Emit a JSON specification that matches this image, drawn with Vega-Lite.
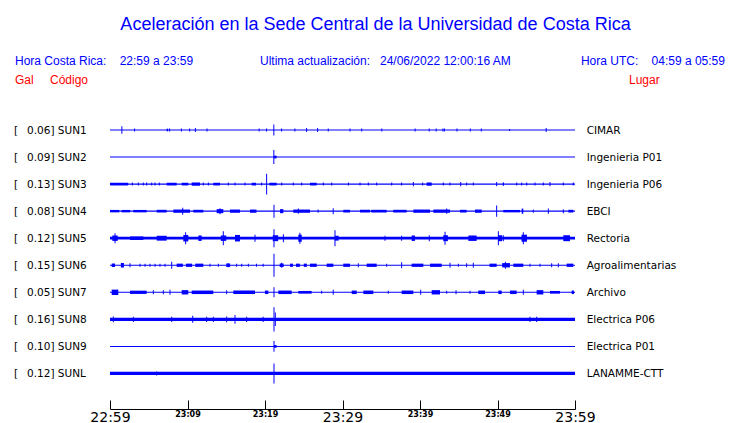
{
"$schema": "https://vega.github.io/schema/vega-lite/v6.json",
"width": 465, "height": 409,
"autosize": "none",
"padding": {"left": 110, "right": 165, "top": 0, "bottom": 14},
"background": "white",
"config": {"view": {"stroke": null}},
"datasets": {
"stations": [
{"row":0,"code":"SUN1","gal":0.06,"place":"CIMAR","noise":0.037},
{"row":1,"code":"SUN2","gal":0.09,"place":"Ingenieria P01","noise":0.037},
{"row":2,"code":"SUN3","gal":0.13,"place":"Ingenieria P06","noise":0.045},
{"row":3,"code":"SUN4","gal":0.08,"place":"EBCI","noise":0.05},
{"row":4,"code":"SUN5","gal":0.12,"place":"Rectoria","noise":0.1},
{"row":5,"code":"SUN6","gal":0.15,"place":"Agroalimentarias","noise":0.037},
{"row":6,"code":"SUN7","gal":0.05,"place":"Archivo","noise":0.037},
{"row":7,"code":"SUN8","gal":0.16,"place":"Electrica P06","noise":0.12},
{"row":8,"code":"SUN9","gal":0.10,"place":"Electrica P01","noise":0.037},
{"row":9,"code":"SUNL","gal":0.12,"place":"LANAMME-CTT","noise":0.12}
],
"bursts": [
{"code":"SUN1","t0":7.31,"t1":7.5,"amp":0.1},
{"code":"SUN2","t0":21.14,"t1":21.5,"amp":0.1},
{"code":"SUN3","t0":0,"t1":2.35,"amp":0.1},
{"code":"SUN3","t0":7.31,"t1":8.6,"amp":0.1},
{"code":"SUN3","t0":9.25,"t1":10.1,"amp":0.1},
{"code":"SUN3","t0":10.54,"t1":11.61,"amp":0.12},
{"code":"SUN3","t0":13.33,"t1":14.19,"amp":0.1},
{"code":"SUN3","t0":18.28,"t1":18.84,"amp":0.1},
{"code":"SUN3","t0":20.56,"t1":21.51,"amp":0.1},
{"code":"SUN3","t0":25.81,"t1":26.67,"amp":0.1},
{"code":"SUN3","t0":40.86,"t1":41.51,"amp":0.12},
{"code":"SUN3","t0":50.67,"t1":50.84,"amp":0.12},
{"code":"SUN4","t0":0,"t1":1.2,"amp":0.09},
{"code":"SUN4","t0":1.5,"t1":2.6,"amp":0.09},
{"code":"SUN4","t0":3.0,"t1":4.73,"amp":0.09},
{"code":"SUN4","t0":6.03,"t1":7.31,"amp":0.1},
{"code":"SUN4","t0":8.17,"t1":10.32,"amp":0.12},
{"code":"SUN4","t0":10.75,"t1":12.04,"amp":0.1},
{"code":"SUN4","t0":13.76,"t1":14.62,"amp":0.15},
{"code":"SUN4","t0":15.48,"t1":16.77,"amp":0.12},
{"code":"SUN4","t0":18.06,"t1":18.9,"amp":0.12},
{"code":"SUN4","t0":21.94,"t1":22.37,"amp":0.15},
{"code":"SUN4","t0":23.65,"t1":25.81,"amp":0.12},
{"code":"SUN4","t0":30.1,"t1":30.97,"amp":0.1},
{"code":"SUN4","t0":32.26,"t1":33.55,"amp":0.1},
{"code":"SUN4","t0":33.7,"t1":35.7,"amp":0.1},
{"code":"SUN4","t0":36.55,"t1":38.28,"amp":0.1},
{"code":"SUN4","t0":39.14,"t1":41.29,"amp":0.12},
{"code":"SUN4","t0":41.72,"t1":43.87,"amp":0.12},
{"code":"SUN4","t0":45.16,"t1":46.02,"amp":0.1},
{"code":"SUN4","t0":47.1,"t1":47.96,"amp":0.12},
{"code":"SUN4","t0":50.75,"t1":52.9,"amp":0.09},
{"code":"SUN4","t0":53.12,"t1":53.33,"amp":0.19},
{"code":"SUN4","t0":59.14,"t1":59.78,"amp":0.1},
{"code":"SUN5","t0":0.3,"t1":1.0,"amp":0.2},
{"code":"SUN5","t0":2.58,"t1":4.3,"amp":0.13},
{"code":"SUN5","t0":6.03,"t1":7.31,"amp":0.18},
{"code":"SUN5","t0":9.46,"t1":10.1,"amp":0.24},
{"code":"SUN5","t0":11.4,"t1":11.83,"amp":0.2},
{"code":"SUN5","t0":14.3,"t1":15.0,"amp":0.2},
{"code":"SUN5","t0":16.13,"t1":16.77,"amp":0.24},
{"code":"SUN5","t0":21.0,"t1":21.7,"amp":0.22},
{"code":"SUN5","t0":24.3,"t1":24.74,"amp":0.26},
{"code":"SUN5","t0":29.0,"t1":29.5,"amp":0.18},
{"code":"SUN5","t0":38.92,"t1":39.35,"amp":0.2},
{"code":"SUN5","t0":43.0,"t1":43.6,"amp":0.22},
{"code":"SUN5","t0":46.24,"t1":47.31,"amp":0.2},
{"code":"SUN5","t0":50.1,"t1":50.6,"amp":0.22},
{"code":"SUN5","t0":53.1,"t1":53.8,"amp":0.26},
{"code":"SUN5","t0":58.49,"t1":59.35,"amp":0.22},
{"code":"SUN6","t0":0.22,"t1":0.65,"amp":0.13},
{"code":"SUN6","t0":1.4,"t1":1.8,"amp":0.17},
{"code":"SUN6","t0":8.6,"t1":9.4,"amp":0.12},
{"code":"SUN6","t0":9.8,"t1":10.6,"amp":0.12},
{"code":"SUN6","t0":11.0,"t1":12.04,"amp":0.12},
{"code":"SUN6","t0":15.0,"t1":15.5,"amp":0.13},
{"code":"SUN6","t0":21.9,"t1":22.4,"amp":0.13},
{"code":"SUN6","t0":23.23,"t1":23.6,"amp":0.12},
{"code":"SUN6","t0":24.0,"t1":24.5,"amp":0.12},
{"code":"SUN6","t0":25.0,"t1":25.4,"amp":0.12},
{"code":"SUN6","t0":25.8,"t1":26.67,"amp":0.12},
{"code":"SUN6","t0":27.96,"t1":28.82,"amp":0.12},
{"code":"SUN6","t0":30.1,"t1":30.97,"amp":0.12},
{"code":"SUN6","t0":33.12,"t1":34.41,"amp":0.12},
{"code":"SUN6","t0":38.92,"t1":40.43,"amp":0.12},
{"code":"SUN6","t0":41.29,"t1":42.8,"amp":0.12},
{"code":"SUN6","t0":48.97,"t1":49.89,"amp":0.12},
{"code":"SUN6","t0":50.6,"t1":51.6,"amp":0.16},
{"code":"SUN6","t0":52.04,"t1":53.33,"amp":0.12},
{"code":"SUN6","t0":58.92,"t1":59.78,"amp":0.12},
{"code":"SUN7","t0":0.22,"t1":1.07,"amp":0.2},
{"code":"SUN7","t0":2.58,"t1":4.73,"amp":0.12},
{"code":"SUN7","t0":9.25,"t1":10.1,"amp":0.16},
{"code":"SUN7","t0":10.54,"t1":13.33,"amp":0.13},
{"code":"SUN7","t0":15.91,"t1":18.71,"amp":0.13},
{"code":"SUN7","t0":19.99,"t1":20.43,"amp":0.13},
{"code":"SUN7","t0":21.72,"t1":23.44,"amp":0.13},
{"code":"SUN7","t0":24.3,"t1":26.02,"amp":0.1},
{"code":"SUN7","t0":31.19,"t1":31.83,"amp":0.13},
{"code":"SUN7","t0":32.69,"t1":33.98,"amp":0.13},
{"code":"SUN7","t0":37.63,"t1":39.14,"amp":0.13},
{"code":"SUN7","t0":41.51,"t1":42.58,"amp":0.16},
{"code":"SUN7","t0":47.52,"t1":48.39,"amp":0.13},
{"code":"SUN7","t0":50.11,"t1":50.54,"amp":0.13},
{"code":"SUN7","t0":51.61,"t1":52.47,"amp":0.13},
{"code":"SUN7","t0":55.05,"t1":55.91,"amp":0.16},
{"code":"SUN7","t0":56.77,"t1":58.06,"amp":0.1},
{"code":"SUN7","t0":59.57,"t1":59.87,"amp":0.13},
{"code":"SUN9","t0":21.16,"t1":21.5,"amp":0.1}
],
"spikes": [
{"code":"SUN1","t":1.53,"amp":0.27},{"code":"SUN1","t":3.17,"amp":0.11},{"code":"SUN1","t":7.69,"amp":0.11},{"code":"SUN1","t":9.21,"amp":0.11},{"code":"SUN1","t":10.28,"amp":0.11},{"code":"SUN1","t":11.02,"amp":0.15},{"code":"SUN1","t":12.52,"amp":0.11},{"code":"SUN1","t":19.24,"amp":0.11},{"code":"SUN1","t":20.2,"amp":0.11},{"code":"SUN1","t":21.14,"amp":0.4},{"code":"SUN1","t":22.14,"amp":0.11},{"code":"SUN1","t":23.86,"amp":0.11},{"code":"SUN1","t":25.37,"amp":0.15},{"code":"SUN1","t":26.79,"amp":0.15},{"code":"SUN1","t":28.16,"amp":0.11},{"code":"SUN1","t":30.97,"amp":0.11},{"code":"SUN1","t":32.48,"amp":0.11},{"code":"SUN1","t":35.07,"amp":0.11},{"code":"SUN1","t":39.37,"amp":0.11},{"code":"SUN1","t":41.19,"amp":0.11},{"code":"SUN1","t":42.09,"amp":0.11},{"code":"SUN1","t":42.96,"amp":0.11},{"code":"SUN1","t":43.15,"amp":0.11},{"code":"SUN1","t":44.77,"amp":0.11},{"code":"SUN1","t":46.49,"amp":0.11},{"code":"SUN1","t":47.91,"amp":0.11},{"code":"SUN1","t":51.57,"amp":0.08},{"code":"SUN1","t":56.28,"amp":0.15},
{"code":"SUN2","t":21.14,"amp":0.52},
{"code":"SUN3","t":2.88,"amp":0.11},{"code":"SUN3","t":3.65,"amp":0.11},{"code":"SUN3","t":4.3,"amp":0.11},{"code":"SUN3","t":4.73,"amp":0.11},{"code":"SUN3","t":5.38,"amp":0.11},{"code":"SUN3","t":5.81,"amp":0.11},{"code":"SUN3","t":6.36,"amp":0.11},{"code":"SUN3","t":12.04,"amp":0.11},{"code":"SUN3","t":12.69,"amp":0.11},{"code":"SUN3","t":15.26,"amp":0.11},{"code":"SUN3","t":16.13,"amp":0.11},{"code":"SUN3","t":17.42,"amp":0.11},{"code":"SUN3","t":19.57,"amp":0.11},{"code":"SUN3","t":20.21,"amp":0.77},{"code":"SUN3","t":22.16,"amp":0.11},{"code":"SUN3","t":23.65,"amp":0.11},{"code":"SUN3","t":24.74,"amp":0.11},{"code":"SUN3","t":27.53,"amp":0.11},{"code":"SUN3","t":28.61,"amp":0.11},{"code":"SUN3","t":30.77,"amp":0.11},{"code":"SUN3","t":32.26,"amp":0.11},{"code":"SUN3","t":33.33,"amp":0.11},{"code":"SUN3","t":34.41,"amp":0.11},{"code":"SUN3","t":36.35,"amp":0.11},{"code":"SUN3","t":37.63,"amp":0.11},{"code":"SUN3","t":39.14,"amp":0.15},{"code":"SUN3","t":40.34,"amp":0.11},{"code":"SUN3","t":43.01,"amp":0.11},{"code":"SUN3","t":43.87,"amp":0.11},{"code":"SUN3","t":45.25,"amp":0.15},{"code":"SUN3","t":46.02,"amp":0.11},{"code":"SUN3","t":46.88,"amp":0.11},{"code":"SUN3","t":49.89,"amp":0.15},{"code":"SUN3","t":52.48,"amp":0.11},{"code":"SUN3","t":53.12,"amp":0.11},{"code":"SUN3","t":53.77,"amp":0.11},{"code":"SUN3","t":54.84,"amp":0.11},{"code":"SUN3","t":55.91,"amp":0.11},{"code":"SUN3","t":56.77,"amp":0.15},{"code":"SUN3","t":58.49,"amp":0.11},{"code":"SUN3","t":59.78,"amp":0.11},
{"code":"SUN4","t":9.38,"amp":0.26},{"code":"SUN4","t":14.19,"amp":0.22},{"code":"SUN4","t":21.16,"amp":0.48},{"code":"SUN4","t":24.3,"amp":0.2},{"code":"SUN4","t":26.85,"amp":0.12},{"code":"SUN4","t":28.8,"amp":0.22},{"code":"SUN4","t":43.44,"amp":0.2},{"code":"SUN4","t":49.89,"amp":0.41},{"code":"SUN4","t":54.62,"amp":0.12},{"code":"SUN4","t":56.56,"amp":0.19},{"code":"SUN4","t":58.49,"amp":0.15},
{"code":"SUN5","t":0.65,"amp":0.37},{"code":"SUN5","t":9.76,"amp":0.44},{"code":"SUN5","t":14.62,"amp":0.52},{"code":"SUN5","t":18.71,"amp":0.26},{"code":"SUN5","t":21.16,"amp":0.67},{"code":"SUN5","t":22.37,"amp":0.3},{"code":"SUN5","t":24.5,"amp":0.41},{"code":"SUN5","t":29.03,"amp":0.59},{"code":"SUN5","t":35.48,"amp":0.19},{"code":"SUN5","t":37.63,"amp":0.19},{"code":"SUN5","t":41.2,"amp":0.22},{"code":"SUN5","t":43.23,"amp":0.48},{"code":"SUN5","t":50.11,"amp":0.52},{"code":"SUN5","t":50.75,"amp":0.22},{"code":"SUN5","t":53.33,"amp":0.44},
{"code":"SUN6","t":2.58,"amp":0.15},{"code":"SUN6","t":3.87,"amp":0.11},{"code":"SUN6","t":4.52,"amp":0.11},{"code":"SUN6","t":5.16,"amp":0.11},{"code":"SUN6","t":5.81,"amp":0.11},{"code":"SUN6","t":6.45,"amp":0.11},{"code":"SUN6","t":7.1,"amp":0.11},{"code":"SUN6","t":7.96,"amp":0.26},{"code":"SUN6","t":12.9,"amp":0.11},{"code":"SUN6","t":13.98,"amp":0.11},{"code":"SUN6","t":15.26,"amp":0.15},{"code":"SUN6","t":16.34,"amp":0.11},{"code":"SUN6","t":16.99,"amp":0.11},{"code":"SUN6","t":17.85,"amp":0.11},{"code":"SUN6","t":18.9,"amp":0.11},{"code":"SUN6","t":19.76,"amp":0.11},{"code":"SUN6","t":21.16,"amp":0.85},{"code":"SUN6","t":22.15,"amp":0.19},{"code":"SUN6","t":32.04,"amp":0.15},{"code":"SUN6","t":35.7,"amp":0.11},{"code":"SUN6","t":37.63,"amp":0.22},{"code":"SUN6","t":43.87,"amp":0.19},{"code":"SUN6","t":44.95,"amp":0.11},{"code":"SUN6","t":46.02,"amp":0.15},{"code":"SUN6","t":46.88,"amp":0.19},{"code":"SUN6","t":51.02,"amp":0.26},{"code":"SUN6","t":54.19,"amp":0.11},{"code":"SUN6","t":55.48,"amp":0.11},{"code":"SUN6","t":56.99,"amp":0.15},{"code":"SUN6","t":57.85,"amp":0.15},
{"code":"SUN7","t":5.59,"amp":0.15},{"code":"SUN7","t":6.88,"amp":0.15},{"code":"SUN7","t":7.74,"amp":0.19},{"code":"SUN7","t":15.05,"amp":0.15},{"code":"SUN7","t":21.16,"amp":0.37},{"code":"SUN7","t":27.31,"amp":0.11},{"code":"SUN7","t":28.8,"amp":0.19},{"code":"SUN7","t":35.91,"amp":0.11},{"code":"SUN7","t":40.09,"amp":0.19},{"code":"SUN7","t":43.44,"amp":0.11},{"code":"SUN7","t":44.65,"amp":0.15},{"code":"SUN7","t":46.45,"amp":0.11},{"code":"SUN7","t":53.33,"amp":0.19},
{"code":"SUN8","t":0.43,"amp":0.22},{"code":"SUN8","t":3.01,"amp":0.19},{"code":"SUN8","t":7.96,"amp":0.19},{"code":"SUN8","t":10.67,"amp":0.26},{"code":"SUN8","t":12.47,"amp":0.19},{"code":"SUN8","t":13.33,"amp":0.19},{"code":"SUN8","t":15.05,"amp":0.22},{"code":"SUN8","t":16.13,"amp":0.33},{"code":"SUN8","t":17.63,"amp":0.19},{"code":"SUN8","t":19.76,"amp":0.19},{"code":"SUN8","t":21.16,"amp":0.89},{"code":"SUN8","t":21.33,"amp":0.5},{"code":"SUN8","t":54.19,"amp":0.19},{"code":"SUN8","t":55.05,"amp":0.19},
{"code":"SUN9","t":21.16,"amp":0.4},
{"code":"SUNL","t":6.03,"amp":0.15},{"code":"SUNL","t":21.16,"amp":0.74}
]
},
"encoding": {
"x": {"type": "quantitative", "scale": {"domain": [0, 60], "nice": false, "zero": false, "padding": 0}},
"y": {"type": "quantitative", "scale": {"domain": [-4.806, 10.314], "nice": false, "zero": false, "reverse": true, "padding": 0}, "axis": null}
},
"layer": [
{
"data": {"name": "stations"},
"mark": {"type": "rule", "color": "#0000ff"},
"encoding": {
"y": {"field": "row", "type": "quantitative"},
"size": {"field": "noise", "type": "quantitative", "scale": {"domain": [0, 1], "range": [0, 27.05], "zero": true}, "legend": null}
}
},
{
"data": {"name": "bursts"},
"transform": [{"lookup": "code", "from": {"data": {"name": "stations"}, "key": "code", "fields": ["row"]}}],
"mark": {"type": "bar", "color": "#0000ff", "opacity": 1},
"encoding": {
"x": {"field": "t0", "type": "quantitative", "axis": {
"values": [0,5,10,15,20,25,30,35,40,45,50,55,60],
"title": null, "grid": false,
"domainColor": "black", "domainWidth": 1,
"tickColor": "black", "tickSize": -9, "tickWidth": 1,
"labelExpr": "datum.value % 10 == 0 ? timeFormat(datetime(2022, 5, 23, 22, 59 + datum.value), '%H:%M') : ''",
"labelFont": "DejaVu Sans", "labelColor": "black",
"labelFontSize": {"condition": {"test": "datum.value % 30 == 0", "value": 14}, "value": 8},
"labelFontWeight": {"condition": {"test": "datum.value % 30 == 0", "value": "normal"}, "value": "bold"},
"labelBaseline": "top", "labelPadding": 10,
"labelOverlap": false, "labelFlush": false, "labelBound": false
}},
"x2": {"field": "t1"},
"y": {"field": "row", "type": "quantitative"},
"size": {"field": "amp", "type": "quantitative", "scale": {"domain": [0, 1], "range": [0, 27.05], "zero": true}, "legend": null}
}
},
{
"data": {"name": "spikes"},
"transform": [{"lookup": "code", "from": {"data": {"name": "stations"}, "key": "code", "fields": ["row"]}}],
"mark": {"type": "tick", "orient": "vertical", "thickness": 1, "color": "#0000ff", "opacity": 1},
"encoding": {
"x": {"field": "t", "type": "quantitative"},
"y": {"field": "row", "type": "quantitative"},
"size": {"field": "amp", "type": "quantitative", "scale": {"domain": [0, 1], "range": [0, 27.05], "zero": true}, "legend": null}
}
},
{
"data": {"name": "stations"},
"mark": {"type": "text", "text": "[", "align": "left", "baseline": "middle", "dy": 1, "font": "DejaVu Sans", "fontSize": 10.5, "color": "black"},
"encoding": {"x": {"datum": -12.39, "type": "quantitative"}, "y": {"field": "row", "type": "quantitative"}}
},
{
"data": {"name": "stations"},
"transform": [{"calculate": "format(datum.gal, '.2f') + '] ' + datum.code", "as": "label"}],
"mark": {"type": "text", "align": "left", "baseline": "middle", "dy": 1, "font": "DejaVu Sans", "fontSize": 10.5, "color": "black"},
"encoding": {"x": {"datum": -10.71, "type": "quantitative"}, "y": {"field": "row", "type": "quantitative"}, "text": {"field": "label"}}
},
{
"data": {"name": "stations"},
"mark": {"type": "text", "align": "left", "baseline": "middle", "dy": 1, "font": "DejaVu Sans", "fontSize": 10.5, "color": "black"},
"encoding": {"x": {"datum": 61.5, "type": "quantitative"}, "y": {"field": "row", "type": "quantitative"}, "text": {"field": "place"}}
},
{
"data": {"values": [{}]},
"mark": {"type": "text", "text": "Aceleración en la Sede Central de la Universidad de Costa Rica", "align": "center", "baseline": "alphabetic", "font": "Liberation Sans", "fontSize": 18, "color": "#0000ff"},
"encoding": {"x": {"datum": 34.26, "type": "quantitative"}, "y": {"datum": -3.697, "type": "quantitative"}}
},
{
"data": {"values": [{}]},
"mark": {"type": "text", "text": "Hora Costa Rica:\u00a0\u00a0\u00a0\u00a022:59 a 23:59", "align": "left", "baseline": "alphabetic", "font": "Liberation Sans", "fontSize": 12, "color": "#0000ff"},
"encoding": {"x": {"datum": -12.26, "type": "quantitative"}, "y": {"datum": -2.403, "type": "quantitative"}}
},
{
"data": {"values": [{}]},
"mark": {"type": "text", "text": "Ultima actualización:\u00a0\u00a0\u00a024/06/2022 12:00:16 AM", "align": "left", "baseline": "alphabetic", "font": "Liberation Sans", "fontSize": 12, "color": "#0000ff"},
"encoding": {"x": {"datum": 19.35, "type": "quantitative"}, "y": {"datum": -2.403, "type": "quantitative"}}
},
{
"data": {"values": [{}]},
"mark": {"type": "text", "text": "Hora UTC:\u00a0\u00a0\u00a0\u00a004:59 a 05:59", "align": "right", "baseline": "alphabetic", "font": "Liberation Sans", "fontSize": 12, "color": "#0000ff"},
"encoding": {"x": {"datum": 79.35, "type": "quantitative"}, "y": {"datum": -2.403, "type": "quantitative"}}
},
{
"data": {"values": [{}]},
"mark": {"type": "text", "text": "Gal", "align": "left", "baseline": "alphabetic", "font": "Liberation Sans", "fontSize": 12, "color": "#ff0000"},
"encoding": {"x": {"datum": -12.26, "type": "quantitative"}, "y": {"datum": -1.701, "type": "quantitative"}}
},
{
"data": {"values": [{}]},
"mark": {"type": "text", "text": "Código", "align": "left", "baseline": "alphabetic", "font": "Liberation Sans", "fontSize": 12, "color": "#ff0000"},
"encoding": {"x": {"datum": -7.74, "type": "quantitative"}, "y": {"datum": -1.701, "type": "quantitative"}}
},
{
"data": {"values": [{}]},
"mark": {"type": "text", "text": "Lugar", "align": "left", "baseline": "alphabetic", "font": "Liberation Sans", "fontSize": 12, "color": "#ff0000"},
"encoding": {"x": {"datum": 66.97, "type": "quantitative"}, "y": {"datum": -1.701, "type": "quantitative"}}
}
]
}
